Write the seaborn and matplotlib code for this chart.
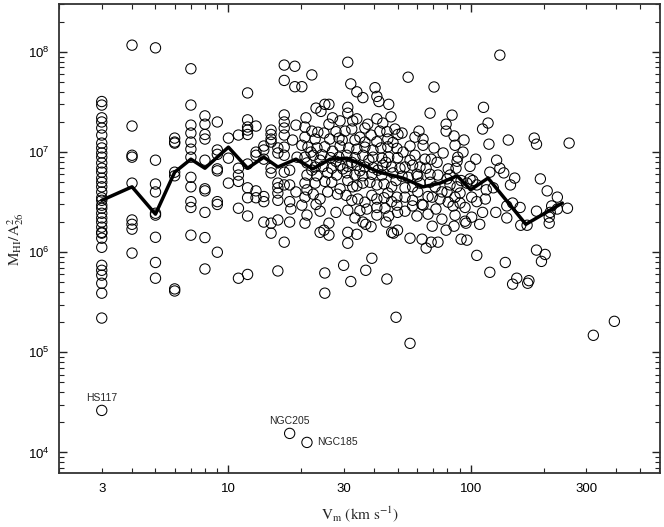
import numpy as np
import pandas as pd
import seaborn as sns
import matplotlib.pyplot as plt
from matplotlib.ticker import LogLocator, FuncFormatter, NullFormatter

# low speeds: galaxies sit on integer Vm columns
col_vm = [3, 4, 5, 6, 7, 8, 9, 10, 11, 12, 13, 14, 15, 16, 17]
col_mhi = [
    [3.2e7, 2.95e7, 2.2e7, 2.0e7, 1.74e7, 1.48e7, 1.23e7, 1.1e7, 9.8e6, 8.9e6, 7.8e6, 6.9e6,
     6.3e6, 5.5e6, 5.0e6, 4.5e6, 4.0e6, 3.5e6, 3.3e6, 2.95e6, 2.75e6, 2.45e6, 2.2e6, 2.0e6,
     1.78e6, 1.58e6, 1.55e6, 1.38e6, 1.12e6, 7.4e5, 6.6e5, 5.9e5, 4.9e5, 3.9e5, 2.2e5],
    [1.17e8, 1.82e7, 9.3e6, 8.9e6, 4.9e6, 2.1e6, 1.9e6, 1.7e6, 9.8e5],
    [1.1e8, 8.3e6, 4.8e6, 4.0e6, 2.45e6, 2.35e6, 1.41e6, 7.9e5, 5.5e5],
    [1.38e7, 1.26e7, 1.23e7, 6.3e6, 5.8e6, 4.3e5, 4.1e5],
    [6.8e7, 2.95e7, 1.86e7, 1.55e7, 1.26e7, 1.07e7, 8.9e6, 5.6e6, 4.5e6, 3.2e6, 2.8e6, 1.48e6],
    [2.3e7, 1.9e7, 1.5e7, 1.35e7, 8.3e6, 4.3e6, 4.1e6, 2.5e6, 1.4e6, 6.8e5],
    [2.0e7, 1.05e7, 9.5e6, 6.8e6, 6.5e6, 3.2e6, 3.0e6, 1.0e6],
    [1.38e7, 8.7e6, 4.9e6],
    [1.48e7, 6.9e6, 5.9e6, 5.1e6, 2.75e6, 5.5e5],
    [3.9e7, 2.1e7, 1.78e7, 1.66e7, 1.5e7, 7.6e6, 4.4e6, 3.5e6, 2.3e6, 6.0e5],
    [1.82e7, 1.0e7, 9.3e6, 4.1e6, 3.5e6],
    [1.15e7, 1.05e7, 8.5e6, 3.6e6, 3.2e6, 2.0e6],
    [1.66e7, 1.5e7, 1.35e7, 1.26e7, 6.9e6, 6.2e6, 1.95e6, 1.55e6],
    [1.1e7, 9.8e6, 4.9e6, 4.4e6, 3.9e6, 3.3e6, 2.1e6, 6.5e5],
    [7.4e7, 5.2e7, 2.35e7, 2.0e7, 1.74e7, 1.48e7, 1.12e7, 9.3e6, 6.3e6, 4.7e6, 1.26e6],
]

# 18 - 56 km/s
mid_vm = [
    18.8, 18.8, 20.1, 19.0, 18.4, 19.2, 17.9, 17.9, 19.0, 17.9, 18.1, 17.9,
    31.1, 22.1, 32.0, 33.9, 35.9, 40.3, 41.0, 41.8, 45.9, 55.2,
    23.0, 24.1, 25.0, 26.0, 31.1, 31.1, 28.9, 32.6, 33.9, 37.6, 41.0, 46.9,
    20.7, 22.1, 23.4, 24.8, 26.0, 27.8, 30.3, 32.3, 34.9, 38.8, 42.2, 45.1, 48.7, 50.1,
    20.7, 22.8, 26.2, 29.5, 36.6, 41.0, 47.8,
    20.1, 21.3, 23.2, 25.0, 26.9, 28.9, 31.4, 33.9, 36.6, 39.5, 42.6, 45.5, 49.6,
    20.7, 22.4, 24.3, 26.4, 28.6, 30.8, 33.3, 35.9, 39.5, 43.0, 45.9, 49.9,
    21.1, 22.8, 24.6, 26.7, 28.9, 31.1, 33.9, 36.6, 39.5, 43.4, 47.2, 51.1,
    21.1, 23.2, 25.7, 28.0, 30.8, 33.3, 35.9, 39.1, 43.0, 47.8,
    20.7, 22.8, 25.0, 21.1, 20.7, 20.1, 21.1, 20.7, 23.9, 23.9, 28.2, 28.9, 32.6, 35.9,
    34.2, 36.6, 37.3, 39.1, 41.0, 41.0, 41.0, 44.3, 44.7, 45.5, 47.2, 49.6, 49.6,
    31.1, 26.0, 24.8, 23.9, 26.0, 31.1, 31.1, 33.9, 35.9, 36.9, 47.2, 48.0, 49.9,
    39.1, 29.9, 36.9, 25.0, 32.0, 45.1, 25.0, 41.0, 43.9, 49.2, 56.2,
]
mid_mhi = [
    7.2e7, 4.5e7, 4.5e7, 1.86e7, 1.32e7, 8.9e6, 6.6e6, 4.7e6, 4.0e6, 3.2e6, 2.7e6, 2.0e6,
    7.9e7, 5.9e7, 4.8e7, 4.0e7, 3.5e7, 4.4e7, 3.6e7, 3.2e7, 3.0e7, 5.6e7,
    2.75e7, 2.55e7, 3.0e7, 3.0e7, 2.8e7, 2.45e7, 2.05e7, 2.05e7, 2.15e7, 1.9e7, 2.15e7, 2.25e7,
    1.78e7, 1.62e7, 1.58e7, 1.55e7, 1.9e7, 1.6e7, 1.62e7, 1.7e7, 1.41e7, 1.48e7, 1.62e7, 1.6e7, 1.7e7, 1.5e7,
    1.41e7, 1.35e7, 1.35e7, 1.32e7, 1.26e7, 1.27e7, 1.25e7,
    1.17e7, 1.12e7, 1.1e7, 1.13e7, 1.02e7, 1.15e7, 1.1e7, 1.07e7, 1.12e7, 1.05e7, 1.1e7, 1.13e7, 1.09e7,
    8.9e6, 9.3e6, 9.4e6, 8.8e6, 8.9e6, 9.3e6, 8.8e6, 9.3e6, 8.9e6, 8.7e6, 8.9e6, 8.8e6,
    7.8e6, 7.1e6, 7.2e6, 6.9e6, 7.4e6, 7.2e6, 7.4e6, 7.1e6, 7.0e6, 7.4e6, 7.1e6, 6.9e6,
    5.9e6, 5.8e6, 6.2e6, 5.9e6, 6.2e6, 5.9e6, 5.8e6, 6.0e6, 5.9e6, 6.2e6,
    4.9e6, 4.9e6, 5.1e6, 4.2e6, 3.55e6, 2.95e6, 2.35e6, 1.95e6, 3.4e6, 2.57e6, 3.8e6, 4.3e6, 4.5e6, 4.9e6,
    3.4e6, 3.16e6, 2.7e6, 3.7e6, 3.4e6, 2.8e6, 2.35e6, 2.75e6, 2.0e6, 3.9e6, 4.5e6, 3.55e6, 2.95e6,
    2.63e6, 1.95e6, 1.66e6, 1.58e6, 1.48e6, 1.58e6, 1.23e6, 1.51e6, 2.0e6, 1.9e6, 1.58e6, 1.55e6, 1.66e6,
    8.7e5, 7.4e5, 6.6e5, 6.2e5, 5.1e5, 5.4e5, 3.9e5, 4.7e6, 4.8e6, 2.24e5, 1.23e5,
]

# faster than ~50 km/s
high_vm = [
    70.6, 68.0, 83.8, 79.2, 79.2, 113, 118, 112, 85.4, 93.9, 86.2, 119, 143,
    52.1, 61.2, 58.9, 63.6, 56.2, 63.6, 70.6, 52.6, 58.9, 64.8, 68.7, 57.6, 61.8, 53.6,
    88.5, 87.9, 105, 99.4, 120, 132, 137, 68.0, 73.3, 80.8, 82.2, 91.3, 99.4, 102,
    55.2, 60.0, 52.1, 53.6, 57.6, 61.8, 68.0, 71.3, 76.1, 82.2, 87.9, 96.5, 106, 116, 90.4,
    53.6, 57.6, 62.9, 69.4, 74.7, 80.8, 86.2, 94.8, 106, 127, 141,
    53.6, 57.6, 63.6, 66.7, 76.1, 69.4, 94.8, 95.7, 101, 112, 109, 86.2,
    56.2, 63.0, 65.5, 68.7, 73.3, 91.3, 96.5, 106, 139, 120,
    183, 187, 255, 152, 194, 207, 228, 251, 216, 228, 213, 211, 211, 187, 160, 149, 141,
    161, 171, 187, 203, 196, 155, 149, 174, 172, 321, 392, 132,
]
high_mhi = [
    4.47e7, 2.45e7, 2.34e7, 1.9e7, 1.62e7, 2.8e7, 1.95e7, 1.7e7, 1.45e7, 1.32e7, 1.17e7, 1.2e7, 1.32e7,
    1.55e7, 1.62e7, 1.41e7, 1.35e7, 1.15e7, 1.17e7, 1.1e7, 1.0e7, 9.3e6, 8.5e6, 8.5e6, 7.4e6, 7.1e6, 7.1e6,
    8.9e6, 8.1e6, 8.5e6, 7.2e6, 6.3e6, 6.9e6, 6.2e6, 6.0e6, 5.9e6, 6.8e6, 5.9e6, 5.2e6, 5.4e6, 5.2e6,
    5.6e6, 6.0e6, 5.75e6, 4.4e6, 4.5e6, 4.9e6, 5.0e6, 4.5e6, 4.0e6, 4.7e6, 4.5e6, 4.9e6, 4.7e6, 4.2e6, 3.9e6,
    3.55e6, 3.3e6, 3.0e6, 3.55e6, 3.4e6, 3.16e6, 3.55e6, 2.8e6, 3.2e6, 2.5e6, 2.2e6,
    2.57e6, 2.9e6, 2.95e6, 2.4e6, 2.14e6, 1.82e6, 2.04e6, 1.95e6, 2.24e6, 2.5e6, 1.9e6, 2.34e6,
    1.38e6, 1.35e6, 1.1e6, 1.26e6, 1.26e6, 1.35e6, 1.32e6, 9.3e5, 7.9e5, 6.3e5,
    1.38e7, 1.2e7, 1.23e7, 5.5e6, 5.4e6, 4.1e6, 3.55e6, 2.75e6, 2.9e6, 2.7e6, 2.5e6, 2.24e6, 1.95e6, 2.57e6, 2.8e6, 3.1e6, 2.9e6,
    1.86e6, 1.86e6, 1.05e6, 9.5e5, 8.1e5, 5.5e5, 4.8e5, 5.2e5, 4.9e5, 1.48e5, 2.04e5, 9.3e7,
]

# the crowded core of the cloud
dense_vm = [
    21.9, 23.9, 27.8, 32.3, 38.0, 44.7, 22.1, 29.7, 34.9, 41.4, 49.2, 26.7, 31.1, 33.9, 38.4,
    30.6, 32.3, 25.7, 43.9, 47.2, 34.9, 45.9, 27.8, 22.4, 23.0, 49.9, 33.3, 38.8,
    20.9, 26.9, 36.6, 43.4, 28.6, 33.3, 45.5,
    56.2, 60.5, 65.5, 72.7, 77.0, 79.9, 87.0, 93.0, 60.5, 66.7, 79.9, 84.6, 90.4, 101,
    60.0, 71.9, 79.2, 85.4, 115, 124, 128, 146,
]
dense_mhi = [
    1.0e7, 8.3e6, 8.1e6, 7.9e6, 8.3e6, 7.9e6, 6.6e6, 6.8e6, 6.5e6, 6.6e6, 5.2e6, 5.0e6, 5.2e6, 4.6e6, 5.0e6,
    3.7e6, 3.3e6, 4.0e6, 3.5e6, 3.2e6, 2.6e6, 2.3e6, 2.5e6, 3.8e6, 3.0e6, 2.5e6, 2.2e6, 1.8e6,
    2.2e7, 2.2e7, 1.74e7, 1.95e7, 1.38e7, 1.32e7, 1.35e7,
    8.3e6, 5.75e6, 6.9e6, 7.9e6, 9.8e6, 5.4e6, 6.9e6, 1.0e7, 4.0e6, 3.6e6, 4.0e6, 2.9e6, 3.1e6, 3.55e6,
    2.3e6, 2.7e6, 1.66e6, 1.82e6, 3.4e6, 4.4e6, 8.3e6, 4.7e6,
]

# running median
med_vm = [3, 4, 5, 6, 7, 8, 10, 12, 14, 16, 19, 22.3, 26.3, 30.9, 36, 42, 52.6, 63.6,
          74.8, 87.9, 100, 118, 169, 239]
med_mhi = [3.3e6, 4.5e6, 2.4e6, 6.3e6, 8.5e6, 6.9e6, 1.12e7, 6.9e6, 8.9e6, 7.1e6, 8.5e6, 6.8e6,
           8.5e6, 8.7e6, 7.4e6, 6.3e6, 5.5e6, 4.5e6, 4.9e6, 5.8e6, 4.2e6, 5.5e6, 1.9e6, 3.1e6]

# named outliers
lab_name = ["HS117", "NGC205", "NGC185"]
lab_vm = [3, 17.9, 21.1]
lab_mhi = [2.63e4, 1.55e4, 1.26e4]

low_vm = [v for v, col in zip(col_vm, col_mhi) for _ in col]
low_mhi = [m for col in col_mhi for m in col]
df = pd.DataFrame({"vm": low_vm + mid_vm + high_vm + dense_vm + lab_vm,
                   "mhi": low_mhi + mid_mhi + high_mhi + dense_mhi + lab_mhi})
med = pd.DataFrame({"vm": med_vm, "mhi": med_mhi})

sns.set_style("ticks")
plt.rcParams["font.family"] = ["Liberation Sans", "DejaVu Sans"]
plt.rcParams["mathtext.fontset"] = "stix"

fig, ax = plt.subplots(figsize=(6.64, 5.27), dpi=100)
fig.subplots_adjust(left=0.089, right=0.994, bottom=0.102, top=0.992)

sns.scatterplot(data=df, x="vm", y="mhi", ax=ax, s=55, marker="o",
                facecolor="none", edgecolor="black", linewidth=0.75, zorder=2)
sns.lineplot(data=med, x="vm", y="mhi", ax=ax, color="black", linewidth=2.5,
             sort=False, estimator=None, zorder=3)

ax.set_xscale("log")
ax.set_yscale("log")
ax.set_xlim(2.0, 605)
ax.set_ylim(6.2e3, 3.0e8)

ax.xaxis.set_major_locator(LogLocator(base=10))
ax.xaxis.set_minor_locator(LogLocator(base=10, subs=np.arange(2, 10)))
ax.xaxis.set_major_formatter(FuncFormatter(lambda v, p: f"{v:g}"))
ax.xaxis.set_minor_formatter(
    FuncFormatter(lambda v, p: f"{v:g}" if round(v / 10 ** np.floor(np.log10(v) + 1e-9)) == 3 else ""))
ax.yaxis.set_major_locator(LogLocator(base=10))
ax.yaxis.set_minor_locator(LogLocator(base=10, subs=np.arange(2, 10)))
ax.yaxis.set_minor_formatter(NullFormatter())

ax.tick_params(which="both", direction="in", top=True, right=True, colors="#222222",
               labelcolor="black", labelsize=9.5, pad=7)
ax.tick_params(which="major", length=6, width=1)
ax.tick_params(which="minor", length=3.5, width=0.8)
for sp in ax.spines.values():
    sp.set_linewidth(1.3)
    sp.set_color("#333333")

for name, v, m in zip(lab_name, lab_vm, lab_mhi):
    if name == "NGC185":
        ax.annotate(name, (v, m), xytext=(7, 0), textcoords="offset points",
                    ha="left", va="center", fontsize=7.5)
    else:
        ax.annotate(name, (v, m), xytext=(0, 5), textcoords="offset points",
                    ha="center", va="bottom", fontsize=7.5)

ax.set_xlabel(r"$\mathrm{V_m\ (km\ s^{-1})}$", fontsize=11, labelpad=7)
ax.set_ylabel(r"$\mathrm{M_{HI}/A^2_{26}}$", fontsize=11, labelpad=1)

fig.savefig("out.png", dpi=100)
